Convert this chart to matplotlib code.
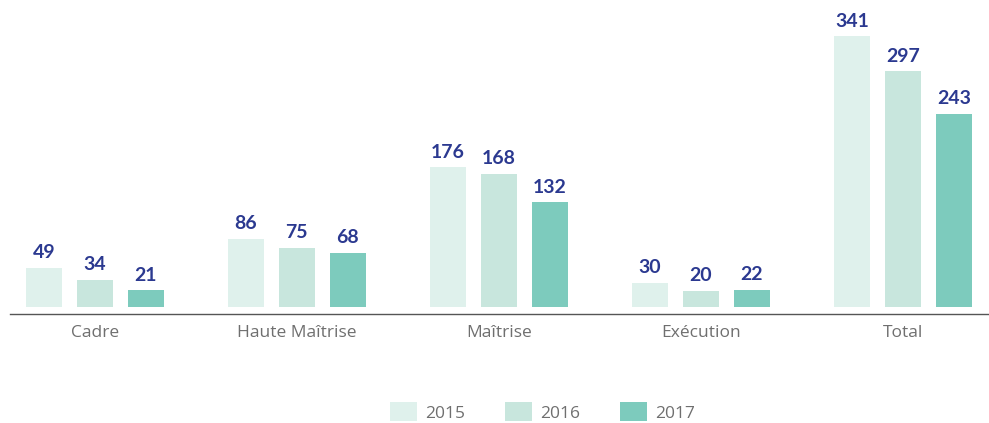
import matplotlib.pyplot as plt
import numpy as np
from matplotlib.patches import Patch

categories = ["Cadre", "Haute Maîtrise", "Maîtrise", "Exécution", "Total"]
years = ["2015", "2016", "2017"]
v2015 = [49, 86, 176, 30, 341]
v2016 = [34, 75, 168, 20, 297]
v2017 = [21, 68, 132, 22, 243]

colors = ["#dff1ec", "#c8e6dd", "#7dcbbd"]
label_color = "#2b3990"
tick_color = "#6f6f6f"

plt.rcParams['font.family'] = ['Lato', 'DejaVu Sans']

fig = plt.figure(figsize=(9.89, 4.23), dpi=100)
ax = fig.add_axes([10 / 989, 1 - 314 / 423, 979 / 989, 314 / 423])

x = np.arange(len(categories))
step = 0.2525
width = 0.178
for i, (vals, col) in enumerate(zip([v2015, v2016, v2017], colors)):
    pos = x + (i - 1) * step
    bars = ax.bar(pos, vals, width=width, color=col, zorder=2)
    for xp, v in zip(pos, vals):
        ax.text(xp, v + 8.5, str(v), ha="center", va="bottom",
                fontsize=14, fontweight="bold", color=label_color)

ax.set_xlim(-0.42, 4.426)
ax.set_ylim(-8.83, 387)

for s in ["top", "right", "left"]:
    ax.spines[s].set_visible(False)
ax.spines["bottom"].set_color("#555555")
ax.spines["bottom"].set_linewidth(1)
ax.set_yticks([])
ax.set_xticks(x)
ax.set_xticklabels(categories, fontsize=12.5, color=tick_color,
                   family=["Open Sans", "DejaVu Sans"])
ax.tick_params(axis="x", length=0, pad=8)

handles = [Patch(facecolor=c, edgecolor="none") for c in colors]
fig.legend(handles, years, loc="center", bbox_to_anchor=(542.5 / 989, 1 - 412 / 423),
           ncol=3, frameon=False, prop={"family": ["Open Sans", "DejaVu Sans"], "size": 12.5},
           labelcolor=tick_color,
           handlelength=1.55, handleheight=1.32, handletextpad=0.46,
           columnspacing=2.3, borderpad=0, borderaxespad=0)

fig.savefig("out.png", dpi=100)
